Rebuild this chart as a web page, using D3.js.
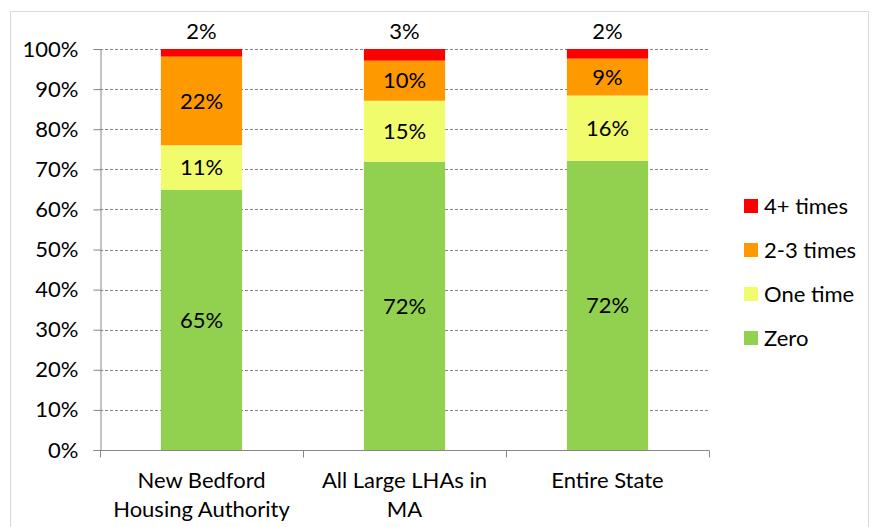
<!DOCTYPE html>
<html><head><meta charset="utf-8">
<script src="https://cdn.jsdelivr.net/npm/d3@7"></script>
<style>body{margin:0;background:#fff}svg{display:block}text{font-family:Lato,"Open Sans",sans-serif;fill:#000}</style>
</head><body>
<script>
const categories = [["New Bedford","Housing Authority"],["All Large LHAs in","MA"],["Entire State"]];
const seriesNames = ["Zero","One time","2-3 times","4+ times"];
const seriesColors = ["#92d050","#f0fc6c","#ff9900","#ff0000"];
const zeroVals = [64.9, 71.9, 72.1];
const oneVals = [11.1, 15.2, 16.3];
const twoThreeVals = [22.1, 10.0, 9.2];
const fourPlusVals = [1.9, 2.9, 2.4];
const yTicks = [0,10,20,30,40,50,60,70,80,90,100];

const W=872,H=527,FS=22;
const svg=d3.select("body").append("svg").attr("width",W).attr("height",H);
svg.append("rect").attr("x",10.5).attr("y",11.5).attr("width",858).attr("height",530)
  .attr("fill","none").attr("stroke","#d9d9d9");

const L=100,R=709,T=49,B=450;
const x=d3.scaleBand().domain(categories.map((c,i)=>i)).range([L,R]).padding(0);
const y=d3.scaleLinear().domain([0,100]).range([B,T]);

// gridlines
svg.append("g").selectAll("line").data(yTicks.filter(t=>t>0)).join("line")
  .attr("x1",L).attr("x2",R).attr("y1",d=>Math.round(y(d))+0.5).attr("y2",d=>Math.round(y(d))+0.5)
  .attr("stroke","#868686").attr("stroke-dasharray","3,2");

const series=[zeroVals,oneVals,twoThreeVals,fourPlusVals];
const rows=categories.map((c,i)=>{const o={i};seriesNames.forEach((s,k)=>o[s]=series[k][i]);return o;});
const stack=d3.stack().keys(seriesNames)(rows);
const bw=x.bandwidth()*0.4;
stack.forEach((layer,k)=>{
  const g=svg.append("g");
  g.selectAll("rect").data(layer).join("rect")
    .attr("x",d=>x(d.data.i)+(x.bandwidth()-bw)/2).attr("width",bw)
    .attr("y",d=>y(d[1])).attr("height",d=>y(d[0])-y(d[1]))
    .attr("fill",seriesColors[k]);
  g.selectAll("text").data(layer).join("text")
    .attr("x",d=>x(d.data.i)+x.bandwidth()/2)
    .attr("y",d=>k===3? y(d[1])-10 : (y(d[0])+y(d[1]))/2)
    .attr("dy",k===3?"0":"0.35em").attr("text-anchor","middle").attr("font-size",FS)
    .text(d=>Math.round(d[1]-d[0])+"%");
});

// y axis
const ya=svg.append("g").attr("transform",`translate(${L+0.5},0)`)
  .call(d3.axisLeft(y).tickValues(yTicks).tickFormat(d=>d+"%").tickSize(7).tickPadding(15));
ya.select(".domain").attr("stroke","#868686");
ya.selectAll(".tick line").attr("stroke","#868686");
ya.selectAll(".tick text").attr("font-size",FS).attr("font-family","Lato,sans-serif");

// x axis
const xa=svg.append("g").attr("transform",`translate(0,${B+0.5})`);
xa.append("line").attr("x1",L).attr("x2",R).attr("stroke","#868686");
xa.selectAll(".xt").data(categories.map((c,i)=>i).concat([categories.length])).join("line")
  .attr("x1",d=>(d<categories.length?x(d):R)+0.5).attr("x2",d=>(d<categories.length?x(d):R)+0.5)
  .attr("y1",0).attr("y2",7).attr("stroke","#868686");
categories.forEach((c,i)=>{
  c.forEach((line,j)=>{
    svg.append("text").attr("x",x(i)+x.bandwidth()/2).attr("y",488+j*29)
      .attr("text-anchor","middle").attr("font-size",FS).text(line);
  });
});

// legend
const legOrder=[3,2,1,0];
legOrder.forEach((k,j)=>{
  const cy=206+j*44;
  svg.append("rect").attr("x",744).attr("y",cy-7).attr("width",14).attr("height",14).attr("fill",seriesColors[k]);
  svg.append("text").attr("x",764).attr("y",cy).attr("dy","0.35em").attr("font-size",FS).text(seriesNames[k]);
});
</script>
</body></html>
